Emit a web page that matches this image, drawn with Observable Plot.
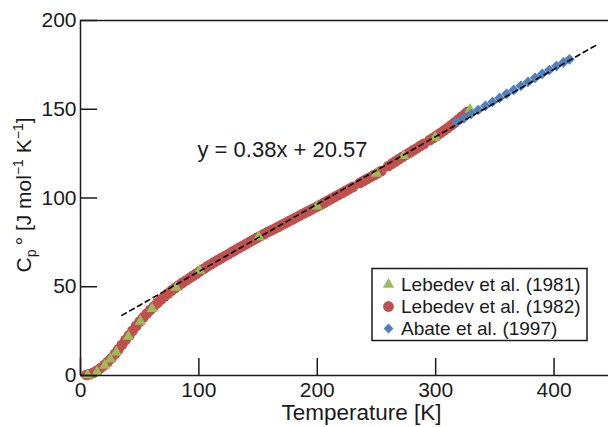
<!DOCTYPE html>
<html><head><meta charset="utf-8">
<script src="https://cdn.jsdelivr.net/npm/d3@7"></script>
<script src="https://cdn.jsdelivr.net/npm/@observablehq/plot@0.6"></script>
<style>body{margin:0;background:#fff}#chart{width:608px;height:427px}</style>
</head><body><div id="chart"></div>
<script>
// Lebedev et al. (1982) – red circles
const lebedev1982T = [5,8,11,14,17,20,23,26,29,32,35,38,41,44,47,50,53,56,59,62,65,68,71,74,77,80,83,86,89,92,95,98,101,104,107,110,113,116,119,122,125,128,131,134,137,140,143,146,149,152,155,158,161,164,167,170,173,176,179,182,185,188,191,194,197,200,203,206,209,212,215,218,221,224,227,230,236,239,242,245,248,251,254,260,263,266,269,272,275,278,281,284,287,290,295,298,301,304,307,310,313,316,319,322,325,327];
const lebedev1982Cp = [0.3,0.8,1.6,2.8,4.2,5.8,7.6,9.7,12.1,14.7,17.3,20.0,22.6,25.3,27.9,30.4,32.7,34.9,37.0,39.0,40.9,42.8,44.6,46.3,47.9,49.4,50.8,52.2,53.5,54.8,56.1,57.4,58.8,60.1,61.4,62.6,63.8,65.0,66.1,67.3,68.4,69.6,70.7,71.9,73.0,74.1,75.3,76.4,77.5,78.6,79.6,80.8,81.7,82.7,83.7,84.8,85.8,86.9,87.9,89.0,90.0,91.1,92.1,93.1,94.2,95.2,96.3,97.4,98.5,99.6,100.7,101.8,102.9,104.0,105.1,106.2,108.5,109.6,110.7,111.8,112.9,114.0,115.1,118.0,119.3,120.6,121.9,123.2,124.4,125.6,126.8,128.0,129.3,130.5,132.6,133.9,135.2,136.6,138.0,139.4,140.9,142.5,144.1,145.8,147.4,148.5];
// Lebedev et al. (1981) – green triangles
const lebedev1981T = [6,14,20.5,25.3,30.3,40.5,50.6,60.5,80.8,100.6,150.5,199.8,250,273,299.6,329];
const lebedev1981Cp = [0.3,1.9,5.6,9.2,13.1,22.0,30.5,37.6,49.6,59.1,78.0,95.4,113.8,123.8,134.1,149.8];
// Abate et al. (1997) – blue diamonds
const abate1997T = [318,324,330,336,342,348,354,360,366,372,378,384,390,396,402,408,413];
const abate1997Cp = [142.8,145.0,147.3,149.6,151.9,154.1,156.4,158.7,160.9,163.2,165.4,167.7,169.9,172.1,174.3,176.4,178.1];
// linear fit
const fitSlope = 0.38, fitIntercept = 20.57;
const fitRange = [35, 435];
const xTicks = [0, 100, 200, 300, 400];
const yTicks = [0, 50, 100, 150, 200];
const xDomain = [0, 446];
const yDomain = [0, 200];
const seriesNames = ["Lebedev et al. (1981)", "Lebedev et al. (1982)", "Abate et al. (1997)"];
const colors = {red: "#c0504d", green: "#9bbb59", blue: "#4f81bd"};

const red = lebedev1982T.map((t, i) => ({T: t, Cp: lebedev1982Cp[i]}));
const green = lebedev1981T.map((t, i) => ({T: t, Cp: lebedev1981Cp[i]}));
const blue = abate1997T.map((t, i) => ({T: t, Cp: abate1997Cp[i]}));
const fit = fitRange.map(t => ({T: t, Cp: fitSlope * t + fitIntercept}));

const font = "'Liberation Sans', Arial, Helvetica, sans-serif";
const ink = "#1a1a1a";

const plot = Plot.plot({
  width: 608, height: 427,
  marginLeft: 80, marginRight: 0, marginTop: 20, marginBottom: 52,
  style: {fontFamily: font, fontSize: "21px", color: ink, background: "#fff", overflow: "visible"},
  x: {domain: xDomain},
  y: {domain: yDomain},
  marks: [
    Plot.dot(red, {x: "T", y: "Cp", r: 5.4, fill: colors.red}),
    Plot.dot(green, {x: "T", y: "Cp", r: 4.2, symbol: "triangle", fill: colors.green}),
    Plot.dot(blue, {x: "T", y: "Cp", r: 4.8, symbol: "diamond2", fill: colors.blue}),
    Plot.line(fit, {x: "T", y: "Cp", stroke: "#000", strokeWidth: 1.6, strokeDasharray: "5,4"}),
    Plot.ruleY([yDomain[0]], {stroke: ink, strokeWidth: 1.5}),
    Plot.ruleY([yDomain[1]], {stroke: ink, strokeWidth: 1.5}),
    Plot.ruleX([xDomain[0]], {stroke: ink, strokeWidth: 1.5}),
    Plot.axisX(xTicks, {tickSize: -17, tickPadding: 24, stroke: ink, strokeWidth: 1.5, fill: ink, fontSize: 21, label: null}),
    Plot.axisY(yTicks, {tickSize: -17, tickPadding: 21, stroke: ink, strokeWidth: 1.5, fill: ink, fontSize: 21, label: null}),
    Plot.text(["Temperature [K]"], {frameAnchor: "bottom", dx: 17, dy: 44, fontSize: 22.5, fill: ink}),
    Plot.text(["y = 0.38x + 20.57"], {frameAnchor: "top-left", dx: 117, dy: 121, textAnchor: "start", fontSize: 22, fill: ink})
  ]
});

const svg = d3.select(plot);
// y-axis title with sub/superscripts
const yl = svg.append("text")
  .attr("transform", "translate(31,195) rotate(-90)")
  .attr("text-anchor", "middle")
  .attr("font-size", 21).attr("fill", ink).attr("font-family", font);
yl.append("tspan").text("C");
yl.append("tspan").attr("font-size", 14).attr("dy", 5).text("p");
yl.append("tspan").attr("dy", -5).text("\u2009°");
yl.append("tspan").text(" [J mol");
yl.append("tspan").attr("font-size", 14).attr("dy", -8).text("−1");
yl.append("tspan").attr("dy", 8).text(" K");
yl.append("tspan").attr("font-size", 14).attr("dy", -8).text("−1");
yl.append("tspan").attr("dy", 8).text("]");

// legend
const lg = svg.append("g").attr("text-anchor", "start");
lg.append("rect").attr("x", 372).attr("y", 268.5).attr("width", 215).attr("height", 72)
  .attr("fill", "#fff").attr("stroke", ink).attr("stroke-width", 1.5);
const legendSymbols = [
  {sym: d3.symbolTriangle, size: Math.PI * 4.2 * 4.2, color: colors.green},
  {sym: d3.symbolCircle, size: Math.PI * 5.4 * 5.4, color: colors.red},
  {sym: d3.symbolDiamond2, size: Math.PI * 4.4 * 4.4, color: colors.blue}
];
seriesNames.forEach((name, i) => {
  const cy = 284.5 + i * 22;
  lg.append("path").attr("d", d3.symbol(legendSymbols[i].sym, legendSymbols[i].size)())
    .attr("transform", `translate(388.5,${cy})`).attr("fill", legendSymbols[i].color);
  lg.append("text").attr("x", 401).attr("y", cy).attr("dy", "0.35em").attr("text-anchor", "start")
    .attr("font-size", 19).attr("font-family", font).attr("fill", ink).text(name);
});

document.getElementById("chart").appendChild(plot);
</script>
</body></html>
